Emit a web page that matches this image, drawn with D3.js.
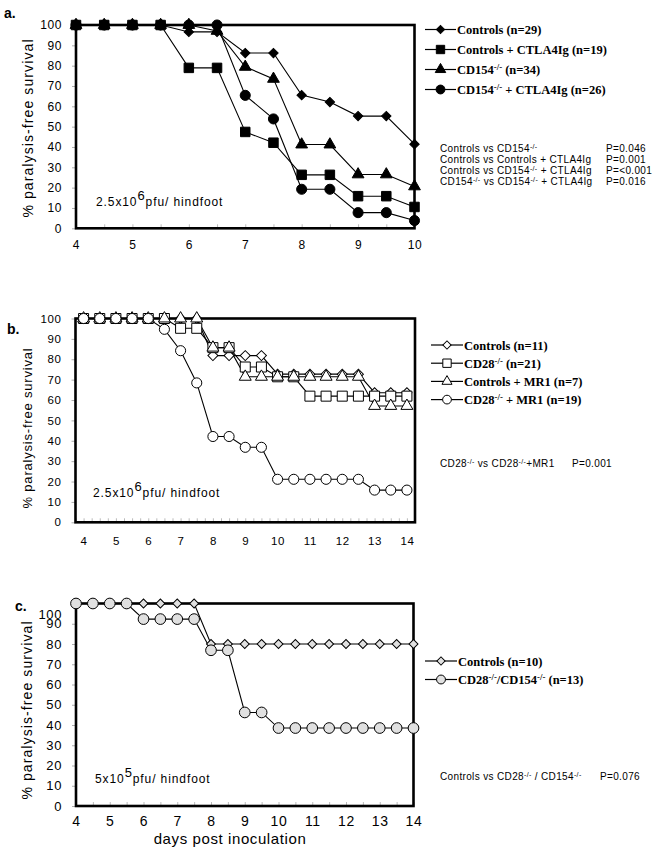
<!DOCTYPE html>
<html><head><meta charset="utf-8">
<script src="https://cdn.jsdelivr.net/npm/d3@7"></script>
<style>body{margin:0;background:#fff}svg{display:block}</style>
</head><body>
<script>
// ---------- DATA ----------
const yTicks = [0,10,20,30,40,50,60,70,80,90,100];

// Panel a
const aDays = [4,4.5,5,5.5,6,6.5,7,7.5,8,8.5,9,9.5,10];
const aXTicks = [4,5,6,7,8,9,10];
const aControls        = [100,100,100,100,96.6,96.6,86.2,86.2,65.5,62.1,55.2,55.2,41.4];
const aControlsCTLA4Ig = [100,100,100,100,78.9,78.9,47.4,42.1,26.3,26.3,15.8,15.8,10.5];
const aCD154           = [100,100,100,100,100,97.1,79.4,73.5,41.2,41.2,26.5,26.5,20.6];
const aCD154CTLA4Ig    = [100,100,100,100,100,100,65.4,53.8,19.2,19.2,7.7,7.7,3.8];
const aLabels = ["Controls (n=29)","Controls + CTLA4Ig (n=19)","CD154^{-/-} (n=34)","CD154^{-/-} + CTLA4Ig (n=26)"];
const aStats = [["Controls vs CD154^{-/-}","P=0.046"],["Controls vs Controls + CTLA4Ig","P=0.001"],["Controls vs CD154^{-/-} + CTLA4Ig","P=<0.001"],["CD154^{-/-} vs CD154^{-/-} + CTLA4Ig","P=0.016"]];

// Panel b
const bDays = [4,4.5,5,5.5,6,6.5,7,7.5,8,8.5,9,9.5,10,10.5,11,11.5,12,12.5,13,13.5,14];
const bXTicks = [4,5,6,7,8,9,10,11,12,13,14];
const bControls   = [100,100,100,100,100,100,100,100,81.8,81.8,81.8,81.8,72.7,72.7,72.7,72.7,72.7,72.7,63.6,63.6,63.6];
const bCD28       = [100,100,100,100,100,100,95.2,95.2,85.7,85.7,76.2,76.2,71.4,71.4,61.9,61.9,61.9,61.9,61.9,61.9,61.9];
const bControlsMR1= [100,100,100,100,100,100,100,100,85.7,85.7,71.4,71.4,71.4,71.4,71.4,71.4,71.4,71.4,57.1,57.1,57.1];
const bCD28MR1    = [100,100,100,100,100,94.7,84.2,68.4,42.1,42.1,36.8,36.8,21.1,21.1,21.1,21.1,21.1,21.1,15.8,15.8,15.8];
const bLabels = ["Controls (n=11)","CD28^{-/-} (n=21)","Controls + MR1 (n=7)","CD28^{-/-} + MR1 (n=19)"];
const bStats = [["CD28^{-/-} vs CD28^{-/-}+MR1","P=0.001"]];

// Panel c
const cDays = [4,4.5,5,5.5,6,6.5,7,7.5,8,8.5,9,9.5,10,10.5,11,11.5,12,12.5,13,13.5,14];
const cXTicks = [4,5,6,7,8,9,10,11,12,13,14];
const cControls   = [100,100,100,100,100,100,100,100,80,80,80,80,80,80,80,80,80,80,80,80,80];
const cCD28CD154  = [100,100,100,100,92.3,92.3,92.3,92.3,76.9,76.9,46.2,46.2,38.5,38.5,38.5,38.5,38.5,38.5,38.5,38.5,38.5];
const cLabels = ["Controls (n=10)","CD28^{-/-}/CD154^{-/-} (n=13)"];
const cStats = [["Controls vs CD28^{-/-} / CD154^{-/-}","P=0.076"]];

const yTitle = "% paralysis-free survival";
const xTitle = "days post inoculation";

// ---------- DRAWING ----------
const SANS = "Arial, 'Liberation Sans', Helvetica, sans-serif";
const SERIF = "'Times New Roman', 'Liberation Serif', Times, serif";
const svg = d3.select("body").append("svg").attr("width",660).attr("height",861);

function rich(sel, str){
  const parts = str.split(/\^\{([^}]*)\}/);
  let raised = false;
  parts.forEach((p,i)=>{
    if(p==="") return;
    const sup = i%2===1;
    const t = sel.append("tspan").text(p);
    if(sup){ t.attr("font-size","70%").attr("dy", "-0.45em"); raised = true; }
    else if(raised){ t.attr("dy","0.315em"); raised=false; }
  });
}

function marker(g, type, size, fill, x, y){
  const sym = {diamond:d3.symbolSquare, square:d3.symbolSquare, triangle:d3.symbolTriangle, circle:d3.symbolCircle}[type];
  const p = g.append("path").attr("d", d3.symbol(sym, size)())
    .attr("fill", fill).attr("stroke","#000").attr("stroke-width",1);
  p.attr("transform", `translate(${x},${y})` + (type==="diamond" ? " rotate(45)" : ""));
  return p;
}

function panel(cfg){
  const g = svg.append("g");
  const x = d3.scaleLinear().domain(cfg.xDomain).range([cfg.fx0, cfg.fx1]);
  const y = d3.scaleLinear().domain([0,100]).range([cfg.fy1, cfg.fy0]);

  // y axis
  const gy = g.append("g").attr("transform",`translate(${cfg.fx0},0)`)
    .call(d3.axisLeft(y).tickValues(yTicks).tickSize(4).tickPadding(cfg.yPad));
  gy.select(".domain").remove();
  gy.selectAll(".tick line").attr("stroke","#999").attr("stroke-width",0.8);
  gy.attr("font-family",SANS).attr("font-size",cfg.yFs);
  gy.selectAll("text").attr("fill","#000").attr("letter-spacing",cfg.yLs);
  if(cfg.topLabelShift) gy.selectAll(".tick").filter(d=>d===100).select("text").attr("y", cfg.topLabelShift);

  // minor x ticks (inside)
  const gm = g.append("g").attr("transform",`translate(0,${cfg.fy1})`)
    .call(d3.axisBottom(x).tickValues(cfg.minor).tickSize(-4).tickFormat(""));
  gm.select(".domain").remove();
  gm.selectAll(".tick line").attr("stroke","#aaa").attr("stroke-width",0.8);

  // x labels
  const gx = g.append("g").attr("transform",`translate(0,${cfg.fy1})`)
    .call(d3.axisBottom(x).tickValues(cfg.xTicks).tickSize(0).tickPadding(cfg.xPad).tickFormat(d3.format("d")));
  gx.select(".domain").remove();
  gx.attr("font-family",SANS).attr("font-size",cfg.xFs);
  gx.selectAll("text").attr("fill","#000").attr("letter-spacing",cfg.xLs);

  // frame
  g.append("rect").attr("x",cfg.fx0).attr("y",cfg.fy0).attr("width",cfg.fx1-cfg.fx0).attr("height",cfg.fy1-cfg.fy0)
    .attr("fill","none").attr("stroke","#000").attr("stroke-width",2.6);

  // series
  const line = d3.line().x((d,i)=>x(cfg.days[i])).y(d=>y(d));
  cfg.series.forEach(s=>{
    g.append("path").datum(s.values).attr("d",line).attr("fill","none").attr("stroke","#000").attr("stroke-width",1.1);
  });
  cfg.series.forEach(s=>{
    s.values.forEach((v,i)=> marker(g, s.type, s.size, cfg.fill, x(cfg.days[i]), y(v)));
  });

  // y title
  g.append("text").attr("transform",`translate(${cfg.ytX},${cfg.ytY}) rotate(-90)`)
    .attr("text-anchor","middle").attr("font-family",SANS).attr("font-size",cfg.ytFs)
    .attr("letter-spacing",cfg.ytLs).text(yTitle);

  // panel letter
  g.append("text").attr("x",cfg.letterX).attr("y",cfg.letterY).attr("font-family",SANS)
    .attr("font-weight","bold").attr("font-size",14).text(cfg.letter);

  // dose annotation
  const ann = g.append("text").attr("x",cfg.annX).attr("y",cfg.annY).attr("font-family",SANS)
    .attr("font-size",12).attr("letter-spacing",0.9);
  ann.append("tspan").text(cfg.dose[0]);
  ann.append("tspan").attr("font-size",13).attr("dy",-6).text(cfg.dose[1]);
  ann.append("tspan").attr("dy",6).text(cfg.dose[2]);

  // legend
  cfg.labels.forEach((lab,i)=>{
    const ly = cfg.legY + i*cfg.legDy;
    g.append("line").attr("x1",cfg.legX0).attr("x2",cfg.legX1).attr("y1",ly).attr("y2",ly).attr("stroke","#000").attr("stroke-width",1.2);
    const s = cfg.series[i];
    marker(g, s.type, s.legSize, cfg.fill, (cfg.legX0+cfg.legX1)/2, ly);
    const t = g.append("text").attr("x",cfg.legX1+1).attr("y",ly+4.5).attr("font-family",SERIF)
      .attr("font-weight","bold").attr("font-size",cfg.legFs);
    rich(t, lab);
  });

  // stats
  cfg.stats.forEach((st,i)=>{
    const sy = cfg.stY + i*11;
    const t = g.append("text").attr("x",440).attr("y",sy).attr("font-family",SANS).attr("font-size",10).attr("letter-spacing",0.35);
    rich(t, st[0]);
    g.append("text").attr("x",cfg.pX).attr("y",sy).attr("font-family",SANS).attr("font-size",10).attr("letter-spacing",0.35).text(st[1]);
  });

  if(cfg.xTitle){
    g.append("text").attr("x",cfg.xtX).attr("y",cfg.xtY).attr("text-anchor","middle").attr("font-family",SANS)
      .attr("font-size",15).attr("letter-spacing",0.6).text(cfg.xTitle);
  }
}

panel({
  letter:"a.", letterX:4, letterY:18,
  xDomain:[4,10], fx0:76, fx1:414.5, fy0:25, fy1:228.3,
  days:aDays, xTicks:aXTicks, minor:aDays,
  yPad:10, yFs:12, yLs:0.6, xPad:12, xFs:12, xLs:0.6,
  fill:"#000",
  series:[
    {values:aControls, type:"diamond", size:44, legSize:34},
    {values:aControlsCTLA4Ig, type:"square", size:90, legSize:70},
    {values:aCD154, type:"triangle", size:60, legSize:48},
    {values:aCD154CTLA4Ig, type:"circle", size:80, legSize:62}
  ],
  ytX:33, ytY:128, ytFs:14, ytLs:1.1,
  annX:96, annY:206, dose:["2.5x10","6","pfu/ hindfoot"],
  labels:aLabels, legX0:425, legX1:456, legY:29.5, legDy:20, legFs:12.5,
  stats:aStats, stY:152, pX:606
});

panel({
  letter:"b.", letterX:7, letterY:334,
  xDomain:[3.75,14.25], fx0:75.5, fx1:415, fy0:318.5, fy1:522.3,
  days:bDays, xTicks:bXTicks, minor:[3.75,4,4.25,4.5,4.75,5,5.25,5.5,5.75,6,6.25,6.5,6.75,7,7.25,7.5,7.75,8,8.25,8.5,8.75,9,9.25,9.5,9.75,10,10.25,10.5,10.75,11,11.25,11.5,11.75,12,12.25,12.5,12.75,13,13.25,13.5,13.75,14,14.25],
  yPad:10, yFs:11.5, yLs:0.6, xPad:15, xFs:11.5, xLs:0.6,
  fill:"#fff",
  series:[
    {values:bControls, type:"diamond", size:50, legSize:34},
    {values:bCD28, type:"square", size:100, legSize:70},
    {values:bControlsMR1, type:"triangle", size:62, legSize:44},
    {values:bCD28MR1, type:"circle", size:80, legSize:60}
  ],
  ytX:32, ytY:428, ytFs:13, ytLs:0.8,
  annX:93, annY:497, dose:["2.5x10","6","pfu/ hindfoot"],
  labels:bLabels, legX0:431, legX1:463, legY:345, legDy:18.2, legFs:12.5,
  stats:bStats, stY:467, pX:572
});

panel({
  letter:"c.", letterX:15, letterY:611,
  xDomain:[4,14], fx0:76, fx1:413.5, fy0:603.5, fy1:806,
  days:cDays, xTicks:cXTicks, minor:cDays,
  yPad:10, yFs:13, yLs:0.6, xPad:10, xFs:14, xLs:0.6,
  topLabelShift:11,
  fill:"#e0e0e0",
  series:[
    {values:cControls, type:"diamond", size:40, legSize:34},
    {values:cCD28CD154, type:"circle", size:90, legSize:62}
  ],
  ytX:32, ytY:710, ytFs:14, ytLs:1.1,
  annX:95, annY:783, dose:["5x10","5","pfu/ hindfoot"],
  labels:cLabels, legX0:425, legX1:457, legY:661, legDy:18.5, legFs:12.5,
  stats:cStats, stY:780, pX:600,
  xTitle:xTitle, xtX:230, xtY:844
});
</script>
</body></html>
